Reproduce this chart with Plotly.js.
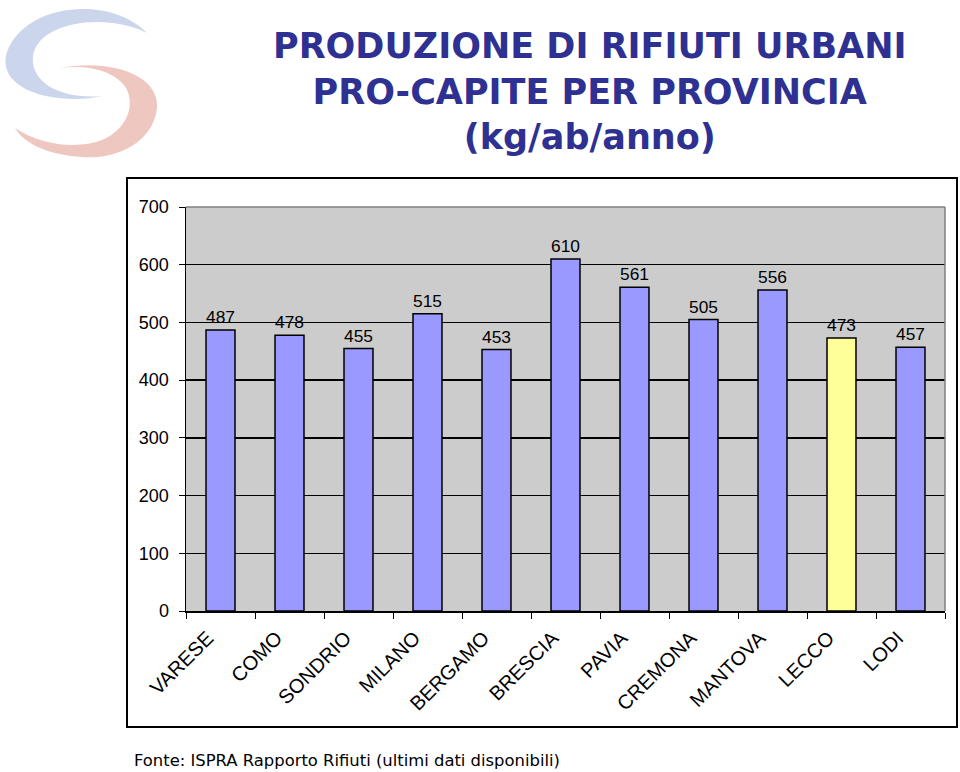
<!DOCTYPE html>
<html>
<head>
<meta charset="utf-8">
<script src="https://cdn.plot.ly/plotly-3.0.1.min.js"></script>
<style>html,body{margin:0;padding:0;background:#fff;}#chart{width:960px;height:772px;}</style>
</head>
<body>
<div id="chart"></div>
<script>
const provinces = ['VARESE','COMO','SONDRIO','MILANO','BERGAMO','BRESCIA','PAVIA','CREMONA','MANTOVA','LECCO','LODI'];
const kgPerCapita = [487, 478, 455, 515, 453, 610, 561, 505, 556, 473, 457];
const highlighted = 'LECCO';
const yTicks = [0, 100, 200, 300, 400, 500, 600, 700];
const titleText = 'PRODUZIONE DI RIFIUTI URBANI<br>PRO-CAPITE PER PROVINCIA<br>(kg/ab/anno)';
const sourceText = 'Fonte: ISPRA Rapporto Rifiuti (ultimi dati disponibili)';

const W = 960, H = 772;
const L = 186, R = 945, T = 207, B = 611;
const px = x => (x - L) / (R - L);
const py = y => (B - y) / (B - T);
function toPaper(path) {
  return path.replace(/(-?\d+(?:\.\d+)?),(-?\d+(?:\.\d+)?)/g, (m, a, b) =>
    px(parseFloat(a)).toFixed(5) + ',' + py(parseFloat(b)).toFixed(5));
}
const bluePath = 'M 147,33 C 110,-5 25,3 7,52 C -5,90 55,106 103,96 C 60,100 30,82 33,56 C 38,22 105,12 147,33 Z';
const salmonPath = 'M 60,68 C 110,58 160,75 157,108 C 153,145 112,160 82,157 C 50,155 25,145 15,128 C 42,146 78,149 102,140 C 126,130 136,106 126,88 C 116,72 90,64 60,68 Z';

const colors = provinces.map(p => p === highlighted ? '#FFFF99' : '#9999FF');
const FONT = 'Liberation Sans, Arial, sans-serif';

const data = [{
  type: 'bar',
  x: provinces,
  y: kgPerCapita,
  marker: {color: colors, line: {color: '#000', width: 1.5}},
  text: kgPerCapita.map(String),
  textposition: 'outside',
  cliponaxis: false,
  textfont: {family: FONT, size: 18, color: '#000'},
  hoverinfo: 'x+y'
}];

const layout = {
  width: W, height: H,
  margin: {l: L, r: W - R, t: T, b: H - B, pad: 0},
  paper_bgcolor: '#fff',
  plot_bgcolor: '#CCCCCC',
  showlegend: false,
  bargap: 0.58,
  font: {family: FONT, color: '#000'},
  xaxis: {
    type: 'category',
    tickangle: -45,
    tickson: 'boundaries',
    ticks: 'outside', ticklen: 6, tickcolor: '#000',
    ticklabelstandoff: 6,
    ticklabelshift: -13,
    showline: true, linecolor: '#000', linewidth: 1.5,
    showgrid: false,
    tickfont: {size: 20, color: '#000'},
    fixedrange: true
  },
  yaxis: {
    range: [0, 700],
    tickvals: yTicks,
    ticks: 'outside', ticklen: 6, tickcolor: '#000',
    ticklabelstandoff: 6,
    showline: true, linecolor: '#000', linewidth: 1.5,
    showgrid: true, gridcolor: '#000', gridwidth: 1.5,
    zeroline: false,
    tickfont: {size: 18, color: '#000'},
    fixedrange: true
  },
  shapes: [
    {type: 'rect', xref: 'paper', yref: 'paper', layer: 'below',
     x0: px(127), x1: px(957), y0: py(727), y1: py(178),
     line: {color: '#000', width: 2}, fillcolor: 'rgba(0,0,0,0)'},
    {type: 'line', xref: 'paper', yref: 'paper', x0: 0, x1: 1, y0: 1, y1: 1,
     line: {color: '#808080', width: 1.5}},
    {type: 'line', xref: 'paper', yref: 'paper', x0: 1, x1: 1, y0: 0, y1: 1,
     line: {color: '#808080', width: 1.5}},
    {type: 'path', xref: 'paper', yref: 'paper', path: toPaper(bluePath),
     fillcolor: 'rgb(203,214,236)', line: {width: 0}},
    {type: 'path', xref: 'paper', yref: 'paper', path: toPaper(salmonPath),
     fillcolor: 'rgb(238,200,192)', line: {width: 0}}
  ],
  annotations: [
    {
      text: '<b>' + titleText.split('<br>').join('</b><br><b>') + '</b>',
      xref: 'paper', yref: 'paper',
      x: px(590), y: py(24), xanchor: 'center', yanchor: 'top', align: 'center',
      showarrow: false,
      font: {family: 'DejaVu Sans, Verdana, sans-serif', size: 35, color: '#2E3192'}
    },
    {
      text: sourceText, xref: 'paper', yref: 'paper',
      x: px(132), y: py(760), xanchor: 'left', yanchor: 'middle',
      showarrow: false,
      font: {family: 'DejaVu Sans, Verdana, sans-serif', size: 16.4, color: '#000'}
    }
  ]
};

Plotly.newPlot('chart', data, layout, {displayModeBar: false, staticPlot: true});
</script>
</body>
</html>
